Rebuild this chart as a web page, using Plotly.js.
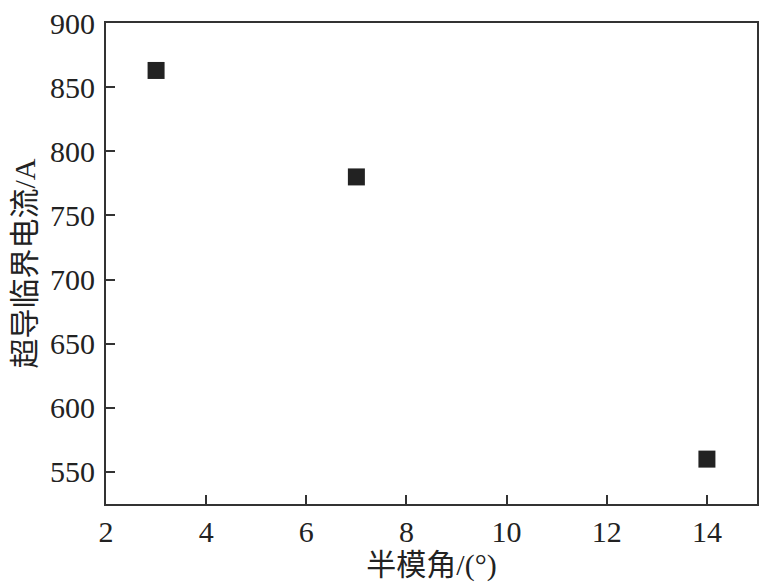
<!DOCTYPE html>
<html>
<head>
<meta charset="utf-8">
<script src="https://cdn.plot.ly/plotly-3.0.1.min.js"></script>
<style>html,body{margin:0;padding:0;background:#fff;}#chart{width:774px;height:587px;}</style>
</head>
<body>
<div id="chart"></div>
<script>
const halfAngle = [3, 7, 14];
const criticalCurrent = [863, 780, 560];
const xTicks = [2, 4, 6, 8, 10, 12, 14];
const yTicks = [550, 600, 650, 700, 750, 800, 850, 900];

const fontFam = 'Liberation Serif, Noto Sans CJK SC, serif';
const axisCommon = {
  showline: true, linecolor: '#333', linewidth: 2, mirror: true,
  ticks: 'inside', ticklen: 9, tickwidth: 2, tickcolor: '#333',
  showgrid: false, zeroline: false,
  tickfont: {family: fontFam, size: 30, color: '#222'}
};
Plotly.newPlot('chart', [{
  x: halfAngle, y: criticalCurrent, type: 'scatter', mode: 'markers',
  marker: {symbol: 'square', size: 17, color: '#222'}
}], {
  width: 774, height: 587,
  margin: {l: 106, r: 17, t: 23, b: 83},
  paper_bgcolor: '#fff', plot_bgcolor: '#fff',
  showlegend: false,
  xaxis: Object.assign({}, axisCommon, {
    range: [2, 15], tickvals: xTicks, ticktext: xTicks.map(String),
    title: {text: '半模角/(°)', font: {family: fontFam, size: 30, color: '#222'}, standoff: 2}
  }),
  yaxis: Object.assign({}, axisCommon, {
    range: [525, 900], tickvals: yTicks, ticktext: yTicks.map(String),
    ticklabelstandoff: 3,
    title: {text: '超导临界电流/A', font: {family: fontFam, size: 30, color: '#222'}, standoff: 6}
  })
}, {staticPlot: true});
</script>
</body>
</html>
